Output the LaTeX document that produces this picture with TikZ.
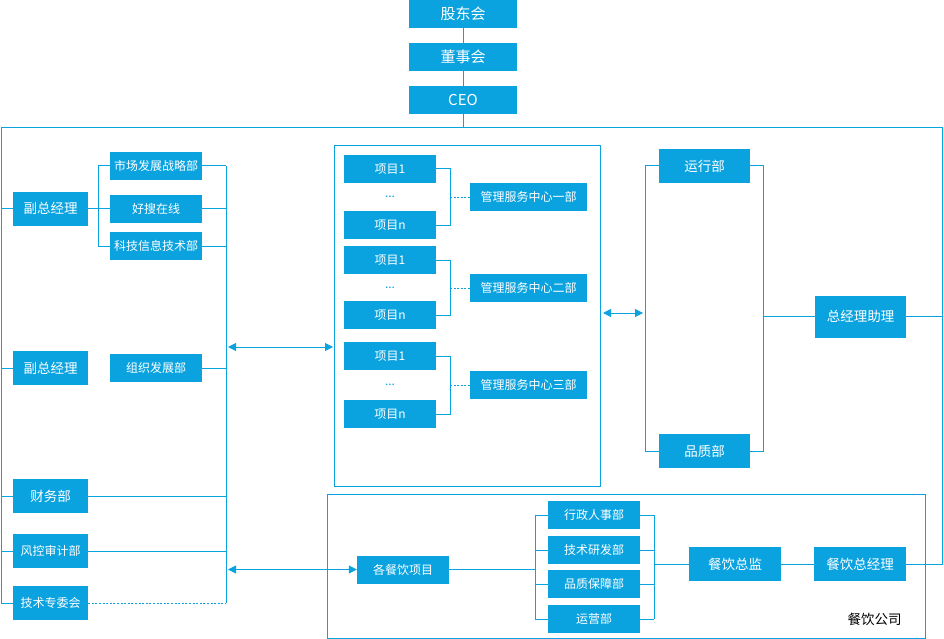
\documentclass[tikz,border=0pt]{standalone}
\usepackage{fontspec}
\setmainfont{Noto Sans CJK SC}
\usetikzlibrary{arrows.meta}
\definecolor{bl}{HTML}{0AA3E0}
\begin{document}
\begin{tikzpicture}[x=1pt,y=-1pt,
  ln/.style={draw=bl,line width=1pt},
  dot/.style={ln,dash pattern=on 2pt off 1.6pt},
  dbl/.style={ln,{Triangle[length=8pt,width=8pt]}-{Triangle[length=8pt,width=8pt]}},
  box/.style={fill=bl,text=white,inner sep=0pt,minimum width=92pt,minimum height=28pt,font=\fontsize{12}{14}\selectfont},
  topbox/.style={box,minimum width=108pt,font=\fontsize{15}{17}\selectfont},
  lbox/.style={box,minimum width=75pt,minimum height=34pt,font=\fontsize{13.5}{16}\selectfont},
  lsbox/.style={box,minimum width=75pt,minimum height=34pt},
  rbox/.style={box,minimum width=91pt,minimum height=34pt,font=\fontsize{13.5}{16}\selectfont},
  mbox/.style={box,minimum width=117pt},
  dots/.style={text=bl,inner sep=0pt,font=\fontsize{12}{14}\selectfont}
]
\useasboundingbox (0,0) rectangle (944,639);

% top chain
\node[topbox] (gd) at (463,14) {股东会};
\node[topbox] (dsh) at (463,57) {董事会};
\node[topbox] (ceo) at (463,100) {CEO};
\draw[ln] (gd) -- (dsh);
\draw[ln] (dsh) -- (ceo);

% outer frame coordinates
\coordinate (fTL) at (1,127.5);
\coordinate (fTR) at (942.5,127.5);
\coordinate (fBL) at (1,603);
\draw[ln] (ceo.south) -- (ceo.south |- fTL);

% left column
\node[lbox] (vp1) at (50.5,208.5) {副总经理};
\node[lbox] (vp2) at (50.5,368) {副总经理};
\node[lbox] (cw) at (50.5,496) {财务部};
\node[lsbox] (fk) at (50.5,551) {风控审计部};
\node[lsbox] (js) at (50.5,603) {技术专委会};

% middle-left column
\node[box] (sc) at (156,166) {市场发展战略部};
\node[box] (hs) at (156,208.5) {好搜在线};
\node[box] (kj) at (156,246) {科技信息技术部};
\node[box] (zz) at (156,368) {组织发展部};

% outer frame
\draw[ln] (fBL) -- (fTL) -- (fTR);
\foreach \n in {vp1,vp2,cw,fk} \draw[ln] (fTL |- \n) -- (\n.west);
\draw[ln] (fBL) -- (js.west);

% branch of vp1
\coordinate (b1) at (98,166);
\draw[ln] (vp1.east) -- (b1 |- vp1);
\draw[ln] (b1 |- sc) -- (b1 |- kj);
\foreach \n in {sc,hs,kj} \draw[ln] (b1 |- \n) -- (\n.west);

% collector x=226
\coordinate (v) at (226,166);
\draw[ln] (v |- sc) -- (v |- js);
\foreach \n in {sc,hs,kj,zz,cw,fk} \draw[ln] (\n.east) -- (v |- \n);
\draw[dot] (js.east) -- (v |- js);

% middle frame
\draw[ln] (334,145.5) rectangle (600.5,486);
\coordinate (a1l) at (228,347);
\coordinate (a1r) at (333,347);
\draw[dbl] (a1l) -- (a1r);

% project groups
\foreach \g/\ya/\yb/\yc/\lab in {1/169/225/197/管理服务中心一部, 2/260/315/288/管理服务中心二部, 3/356/414/385/管理服务中心三部}{
  \node[box] (p\g a) at (390,\ya) {项目1};
  \node[box] (p\g b) at (390,\yb) {项目n};
  \node[dots] (p\g d) at (390,\yc) {...};
  \node[mbox] (m\g) at (528.5,\yc) {\lab};
  \coordinate (k\g) at (450,\yc);
  \draw[ln] (p\g a.east) -- (k\g |- p\g a) -- (k\g |- p\g b) -- (p\g b.east);
  \draw[dot] (k\g) -- (m\g.west);
}

% right group
\node[rbox] (yx) at (704.5,166) {运行部};
\node[rbox] (pz) at (704.5,451) {品质部};
\node[rbox,minimum height=42pt] (zl) at (860.5,316.5) {总经理助理};
\coordinate (rl) at (645,166);
\coordinate (rr) at (763,166);
\draw[ln] (yx.west) -- (rl) -- (rl |- pz) -- (pz.west);
\draw[ln] (yx.east) -- (rr) -- (rr |- pz) -- (pz.east);
\draw[ln] (rr |- zl) -- (zl.west);
\draw[ln] (zl.east) -- (zl.east -| fTR);
\coordinate (a2l) at (603,313);
\coordinate (a2r) at (643,313);
\draw[dbl] (a2l) -- (a2r);

% bottom frame
\draw[ln] (327,494) rectangle (925,638);
\node[box] (xm) at (403,569.5) {各餐饮项目};
\node[box] (d1) at (594,515) {行政人事部};
\node[box] (d2) at (594,550) {技术研发部};
\node[box] (d3) at (594,584) {品质保障部};
\node[box] (d4) at (594,619) {运营部};
\node[rbox,minimum width=92pt] (zj) at (735,564) {餐饮总监};
\node[rbox,minimum width=92pt] (zjl) at (860,564) {餐饮总经理};
\node[inner sep=0pt,font=\fontsize{13.5}{16}\selectfont] (cygs) at (874.5,619) {餐饮公司};

\coordinate (a3l) at (228,569.5);
\draw[dbl] (a3l) -- (xm.west);
\coordinate (bl1) at (535,515);
\coordinate (br1) at (654,515);
\draw[ln] (xm.east) -- (bl1 |- xm);
\draw[ln] (bl1 |- d1) -- (bl1 |- d4);
\draw[ln] (br1 |- d1) -- (br1 |- d4);
\foreach \n in {d1,d2,d3,d4}{
  \draw[ln] (bl1 |- \n) -- (\n.west);
  \draw[ln] (\n.east) -- (br1 |- \n);
}
\draw[ln] (br1 |- zj) -- (zj.west);
\draw[ln] (zj.east) -- (zjl.west);
\draw[ln] (zjl.east) -- (zjl.east -| fTR) -- (fTR);
\end{tikzpicture}
\end{document}
